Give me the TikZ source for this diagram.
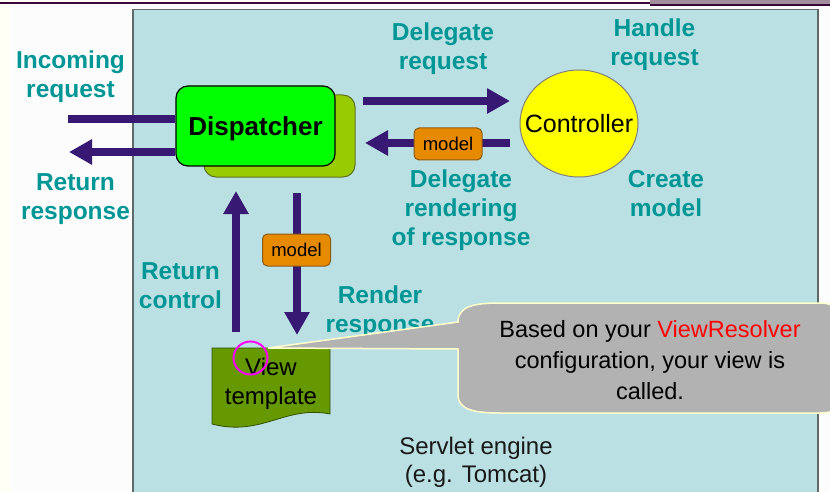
\documentclass[tikz,border=0pt]{standalone}
\usepackage{fontspec}
\setmainfont{Liberation Sans}
\usetikzlibrary{arrows.meta,shapes.geometric}
\definecolor{boxbg}{RGB}{187,224,227}
\definecolor{boxline}{RGB}{95,105,105}
\definecolor{arrowc}{RGB}{55,25,115}
\definecolor{tealc}{RGB}{0,150,150}
\definecolor{dispfront}{RGB}{0,255,0}
\definecolor{dispback}{RGB}{153,204,0}
\definecolor{dispbackline}{RGB}{95,115,40}
\definecolor{modelc}{RGB}{230,138,0}
\definecolor{modelb}{RGB}{140,90,20}
\definecolor{ctrlc}{RGB}{255,255,0}
\definecolor{viewc}{RGB}{102,153,0}
\definecolor{viewb}{RGB}{50,80,0}
\definecolor{calloutc}{RGB}{178,178,178}
\definecolor{calloutb}{RGB}{255,255,204}
\definecolor{creamc}{RGB}{255,255,246}
\definecolor{topdark}{RGB}{55,5,55}
\definecolor{topgray}{RGB}{160,140,155}
\definecolor{magc}{RGB}{255,0,255}
\tikzset{
  lab/.style={font=\fontsize{24.5}{29}\selectfont\bfseries, text=tealc, align=center, anchor=base, inner sep=0pt},
  flow/.style={draw=arrowc, line width=8pt, -{Triangle[length=23pt,width=24pt]}},
  bar/.style={draw=arrowc, line width=8pt},
  modelbox/.style={draw=modelb, fill=modelc, rounded corners=5pt, line width=1pt,
    minimum width=68pt, minimum height=32pt, inner sep=0pt, font=\fontsize{18.5}{20}\selectfont},
  plain/.style={font=\fontsize{24}{29}\selectfont, align=center, anchor=base, inner sep=0pt}
}
\begin{document}
\begin{tikzpicture}[x=1pt,y=-1pt]
\useasboundingbox (0,0) rectangle (830,492);
\clip (0,0) rectangle (830,492);
% page background
\fill[white!99!black] (0,0) rectangle (830,492);
\fill[creamc] (0,0) rectangle (10,492);
\fill[creamc] (0,0) rectangle (650,2);
\fill[topdark] (0,2) rectangle (650,4);
\fill[topgray] (650,0) rectangle (830,4);
\fill[topdark] (650,4) rectangle (830,6);
% servlet engine box
\draw[boxline, line width=1.5pt, fill=boxbg] (133,9.5) rectangle (818,500);

% labels (anchor = baseline of last line)
\node[lab] (lInc) at (70.5,98) {Incoming\\request};
\node[lab] (lRet) at (75.5,219) {Return\\response};
\node[lab] (lDel) at (443,70) {Delegate\\request};
\node[lab] (lHan) at (654.5,66) {Handle\\request};
\node[lab] (lRend) at (461,245) {Delegate\\rendering\\of response};
\node[lab] (lCre) at (666,216) {Create\\model};
\node[lab] (lRc) at (180.5,308) {Return\\control};
\node[lab] (lRr) at (380,332) {Render\\response};
\node[plain, text=black!90, font=\fontsize{24}{28}\selectfont] (lServ) at (476,482) {Servlet engine\\(e.g. Tomcat)};

% dispatcher
\node[draw=dispbackline, fill=dispback, rounded corners=12pt, line width=1pt,
      minimum width=151pt, minimum height=82pt] (dback) at (279.5,136) {};
\node[draw=black, fill=dispfront, rounded corners=12pt, line width=1.2pt,
      minimum width=159pt, minimum height=80pt, text depth=0pt,
      font=\fontsize{26}{30}\selectfont\bfseries] (disp) at (255.5,126) {Dispatcher};
% controller
\node[draw=black!50, fill=ctrlc, ellipse, line width=1pt, minimum width=118pt, minimum height=107pt,
      inner sep=0pt] (ctrl) at (579,123.5) {};
\node[font=\fontsize{25}{30}\selectfont, inner sep=0pt] (ctrlT) at (ctrl.center) {Controller};

% coordinates for connector ends
\coordinate (inS) at (68,119);
\coordinate (outE) at (69,152);
\coordinate (drS) at (363,101);
\coordinate (drE) at (510,101);
\coordinate (mbS) at (510,143);
\coordinate (mbE) at (365,143);
\coordinate (rcS) at (236,332);
\coordinate (rcE) at (236,191);
\coordinate (rrS) at (297,193);
\coordinate (rrE) at (297,335);

% connectors
\draw[bar] (inS) -- (inS -| disp.west);
\draw[flow] (outE -| disp.west) -- (outE);
\draw[flow] (drS) -- (drE);
\draw[flow] (mbS) -- (mbE);
\draw[flow] (rcS) -- (rcE);
\draw[flow] (rrS) -- (rrE);
\node[modelbox] (m1) at (448,144) {model};
\node[modelbox] (m2) at (296.5,250) {model};

% view template
\path[draw=viewb, fill=viewc, line width=0.8pt]
  (212,348) -- (330,348) -- (330,414)
  .. controls (285,405) and (262,437) .. (212,424) -- cycle;
\node[plain] (view) at (271,404) {View\\template};

% callout
\path[draw=calloutb, fill=calloutc, line width=1.5pt]
  (268,348) -- (458,322)
  .. controls (458,306) and (475,303) .. (500,303)
  -- (820,303) .. controls (838,303) and (845,315) .. (845,330)
  -- (845,390) .. controls (845,405) and (838,413) .. (820,413)
  -- (500,413) .. controls (475,413) and (458,410) .. (458,395)
  -- (458,349) -- cycle;
\node[plain, font=\fontsize{23.5}{31}\selectfont] (callt) at (650,399)
  {Based on your \textcolor{red}{ViewResolver}\\configuration, your view is\\called.};

% highlight circle
\draw[magc, line width=2pt] (250.5,358) ellipse [x radius=17pt, y radius=16.5pt];
\end{tikzpicture}
\end{document}
